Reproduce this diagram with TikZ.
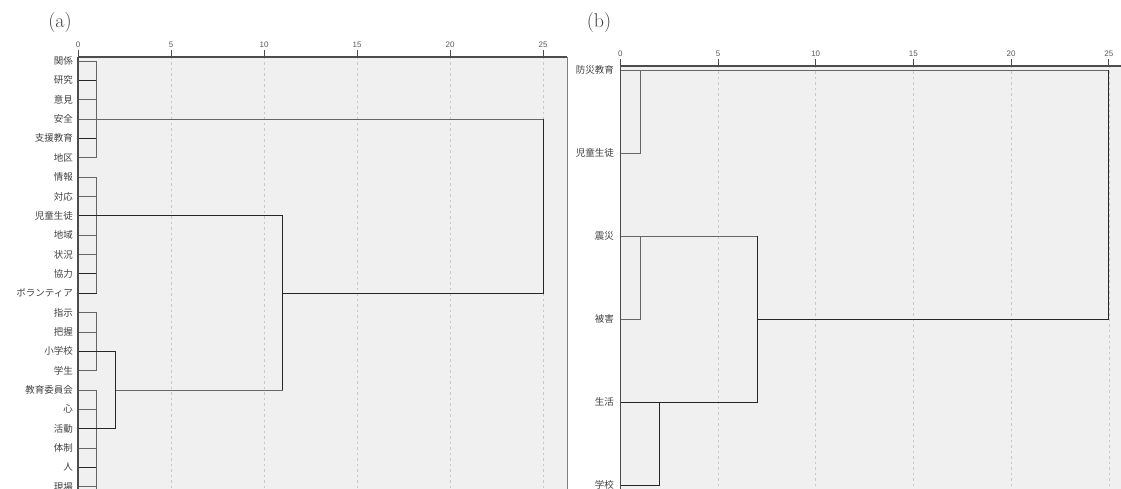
\documentclass[tikz,border=0pt]{standalone}
\usepackage{fontspec}
\setsansfont{Liberation Sans}
\newfontfamily\jpfont{Noto Sans CJK JP}
\definecolor{panelbg}{HTML}{F0F0F0}
\definecolor{gridc}{HTML}{C8C8C8}
\definecolor{lblc}{HTML}{404040}
\tikzset{
  lbl/.style={font=\jpfont\fontsize{9.5}{11}\selectfont,text=lblc,anchor=east,inner sep=0pt},
  ticklbl/.style={font=\sffamily\fontsize{8}{9}\selectfont,text=black!65,inner sep=0pt,anchor=base},
  gridln/.style={gridc,line width=0.6pt,dash pattern=on 2.5pt off 3pt},
  lnk/.style={black!60,line width=0.6pt},
  lnkb/.style={black!85,line width=1pt},
  axisln/.style={black!70,line width=1.1pt},
  panel/.style={font=\fontsize{20}{24}\selectfont,text=black!75}
}

\begin{document}
\begin{tikzpicture}[x=1pt,y=-1pt]
  \useasboundingbox (0,0) rectangle (1121,489);
  \node[panel] (pa) at (60,23) {(a)};
  \node[panel] (pb) at (599,23) {(b)};

  % (a)
  \begin{scope}[shift={(78pt,-61pt)},x=18.6pt,y=-19.35pt]
    \fill[panelbg] (0,-0.207) rectangle (26.29,22.12);
    \foreach \v in {5,10,...,25}
      \draw[gridln] (\v,-0.207) -- (\v,22.12);
    \draw[black!50,line width=0.6pt] (26.29,-0.207) -- (26.29,22.12);
    \draw[axisln] (0,-0.207) -- (26.29,-0.207);
    \foreach \v in {0,5,...,25} {
      \draw[black!70,line width=0.8pt] (\v,-0.207) -- (\v,-0.57);
      \node[ticklbl] (ta\v) at (\v,-0.72) {\v};
    }
    \foreach \t [count=\i from 0] in {関係,研究,意見,安全,支援教育,地区,情報,対応,児童生徒,地域,状況,協力,ボランティア,指示,把握,小学校,学生,教育委員会,心,活動,体制,人,現場}
      \node[lbl] (a\i) at (-0.27,\i) {\t};
    \foreach \r in {0,2,5,6,7,9,10,13,14,16,17,18,20,22}
      \draw[lnk] (0,\r) -- (1,\r);
    \foreach \r in {1,4,11,12,21}
      \draw[lnkb] (0,\r) -- (1,\r);
    \draw[lnk] (1,0) -- (1,5);
    \draw[lnk] (1,6) -- (1,12);
    \draw[lnk] (1,13) -- (1,16);
    \draw[lnk] (1,17) -- (1,22.12);
    \draw[lnk] (0,3) -- (25,3);
    \draw[lnkb] (25,3) -- (25,12) -- (11,12);
    \draw[lnkb] (0,8) -- (11,8) -- (11,17);
    \draw[lnk] (11,17) -- (2,17);
    \draw[lnkb] (0,15) -- (2,15) -- (2,19) -- (0,19);
    \draw[axisln] (0,-0.207) -- (0,22.12);
  \end{scope}

  % (b)
  \begin{scope}[shift={(620.3pt,-70.3pt)},x=19.54pt,y=-83pt]
    \fill[panelbg] (0,-0.052) rectangle (25.62,5.05);
    \foreach \v in {5,10,...,25}
      \draw[gridln] (\v,-0.052) -- (\v,5.05);
    \draw[axisln] (0,-0.052) -- (25.62,-0.052);
    \foreach \v in {0,5,...,25} {
      \draw[black!70,line width=0.8pt] (\v,-0.052) -- (\v,-0.136);
      \node[ticklbl] (tb\v) at (\v,-0.172) {\v};
    }
    \foreach \t [count=\i from 0] in {防災教育,児童生徒,震災,被害,生活,学校}
      \node[lbl] (b\i) at (-0.32,\i) {\t};
    \draw[lnk] (0,0) -- (25,0);
    \draw[lnkb] (25,0) -- (25,3) -- (7,3);
    \draw[lnk] (0,1) -- (1,1) -- (1,0);
    \draw[lnk] (0,2) -- (7,2);
    \draw[lnk] (0,3) -- (1,3) -- (1,2);
    \draw[lnkb] (7,2) -- (7,4) -- (0,4);
    \draw[lnkb] (0,5) -- (2,5) -- (2,4);
    \draw[axisln] (0,-0.052) -- (0,5.05);
  \end{scope}
\end{tikzpicture}
\end{document}
